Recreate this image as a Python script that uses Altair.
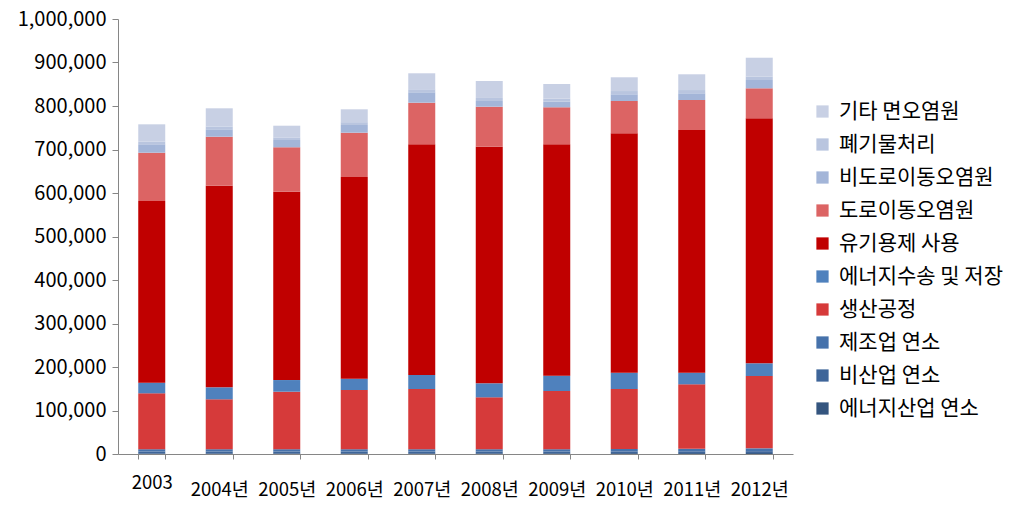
import altair as alt
import pandas as pd

years = ["2003", "2004년", "2005년", "2006년", "2007년", "2008년", "2009년", "2010년", "2011년", "2012년"]

# series listed bottom of stack -> top of stack
series = ["에너지산업 연소", "비산업 연소", "제조업 연소", "생산공정", "에너지수송 및 저장",
          "유기용제 사용", "도로이동오염원", "비도로이동오염원", "폐기물처리", "기타 면오염원"]

energy_ind = [1500, 1600, 1600, 1700, 1700, 1700, 1800, 2000, 2100, 2200]
non_ind = [4200, 4100, 4100, 4000, 4000, 4000, 3900, 4000, 4100, 4300]
manuf = [5300, 5300, 5300, 5300, 5300, 5300, 5300, 5500, 5800, 6500]
production = [128500, 114700, 132200, 136100, 138400, 119300, 133800, 137900, 148200, 166300]
energy_transport = [24500, 27600, 26800, 26000, 32200, 32200, 35200, 37500, 26700, 29200]
solvent = [417600, 463500, 433000, 463700, 530400, 543900, 532000, 550300, 557900, 563200]
road = [111000, 112600, 102100, 101800, 95600, 92000, 85000, 74300, 69000, 69000]
nonroad = [19400, 17000, 16700, 17700, 23900, 13100, 12900, 15400, 15400, 19100]
waste = [6000, 6500, 6000, 6500, 7000, 7000, 7000, 7500, 7500, 8000]
other_area = [39900, 41800, 26900, 29600, 36700, 39000, 33700, 31600, 36200, 43200]

colors = ["#34557f", "#3e6599", "#4672ab", "#d63a3a", "#4f81bd",
          "#c00000", "#dc6464", "#a3b5d8", "#b9c5df", "#c8d0e4"]

values = [energy_ind, non_ind, manuf, production, energy_transport,
          solvent, road, nonroad, waste, other_area]

rows = []
for si, (name, vals) in enumerate(zip(series, values)):
    for y, v in zip(years, vals):
        rows.append({"year": y, "series": name, "value": v, "ord": si})
df = pd.DataFrame(rows)

legend_order = series[::-1]
legend_colors = colors[::-1]

font = "Noto Sans CJK KR"

chart = alt.Chart(df).mark_bar(size=27).encode(
    x=alt.X("year:N", sort=years, title=None,
            scale=alt.Scale(paddingInner=0.6, paddingOuter=0.3),
            axis=alt.Axis(labelAngle=0, tickBand="extent", tickSize=5, tickColor="#868686",
                          domainColor="#868686", labelFontSize=18.5, labelFont=font,
                          labelColor="#000000",
                          labelPadding={"condition": {"test": "datum.value == '2003'", "value": 14},
                                        "value": 21})),
    y=alt.Y("value:Q", stack="zero", title=None,
            scale=alt.Scale(domain=[0, 1000000], nice=False),
            axis=alt.Axis(values=list(range(0, 1000001, 100000)), format=",d", grid=False,
                          tickSize=6, tickColor="#868686", domainColor="#868686",
                          labelFontSize=20, labelFont=font, labelColor="#000000",
                          labelPadding=6)),
    color=alt.Color("series:N", title=None,
                    scale=alt.Scale(domain=legend_order, range=legend_colors),
                    legend=alt.Legend(orient="none", legendX=694, legendY=82,
                                      symbolType="square", symbolSize=150, symbolStrokeWidth=0,
                                      labelFontSize=21, labelFont=font, labelColor="#000000",
                                      labelLimit=400, rowPadding=11, labelOffset=6)),
    order=alt.Order("ord:Q", sort="ascending"),
).properties(
    width=675, height=435,
    autosize=alt.AutoSizeParams(type="none"),
    padding={"left": 118, "top": 19, "right": 230, "bottom": 58},
    background="#ffffff",
).configure_view(strokeWidth=0, stroke="transparent", strokeOpacity=0)

chart.save("out.html", embed_options={"renderer": "svg", "actions": False})
